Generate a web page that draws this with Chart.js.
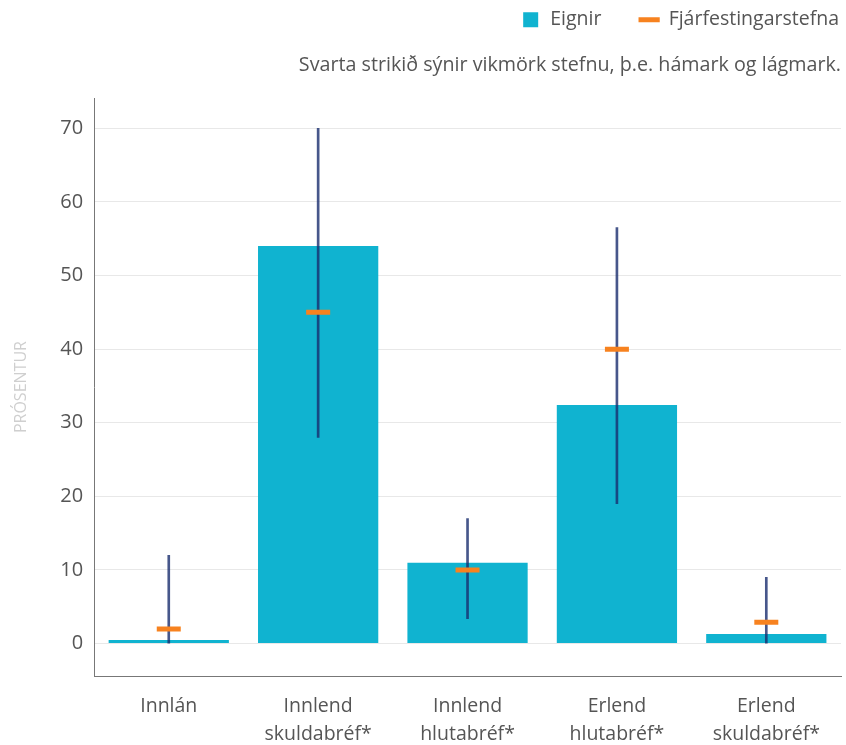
<!DOCTYPE html>
<html>
<head>
<meta charset="utf-8">
<script src="https://cdn.jsdelivr.net/npm/chart.js@4"></script>
<style>
  body { margin: 0; background: #fff; }
  #wrap { width: 846px; height: 745px; }
</style>
</head>
<body>
<div id="wrap"><canvas id="eignirChart"></canvas></div>
<script>
const categories = [
  'Innlán',
  ['Innlend', 'skuldabréf*'],
  ['Innlend', 'hlutabréf*'],
  ['Erlend', 'hlutabréf*'],
  ['Erlend', 'skuldabréf*']
];
const eignir = [0.5, 54, 11, 32.4, 1.3];
const stefna = [2, 45, 10, 40, 2.9];
const lagmark = [0, 28, 3.4, 19, 0];
const hamark = [12, 70, 17, 56.5, 9];
const yTicks = [0, 10, 20, 30, 40, 50, 60, 70];

const fontFamily = "'Open Sans', sans-serif";
const textColor = '#555';
const legendGap = 38;

// legend rows reserve padding after the last item; push it flush right
const legendShift = {
  id: 'legendShift',
  afterLayout(chart) {
    chart.legend.left += legendGap - 2;
    chart.legend.right += legendGap - 2;
  }
};

const ctx = document.getElementById('eignirChart').getContext('2d');
new Chart(ctx, {
  type: 'bar',
  data: {
    labels: categories,
    datasets: [
      {
        label: 'Eignir',
        data: eignir,
        backgroundColor: '#10b3d0',
        pointStyle: 'rect',
        grouped: false,
        barPercentage: 0.805,
        categoryPercentage: 1,
        order: 3
      },
      {
        type: 'line',
        label: 'Fjárfestingarstefna',
        data: stefna,
        showLine: false,
        pointStyle: 'line',
        pointRadius: 12,
        pointHoverRadius: 12,
        pointBorderWidth: 5,
        borderColor: '#f7821f',
        backgroundColor: '#f7821f',
        order: 1
      },
      {
        label: 'vikmörk',
        data: lagmark.map((v, i) => [v, hamark[i]]),
        backgroundColor: 'rgba(25, 45, 110, 0.8)',
        grouped: false,
        barThickness: 2,
        order: 2
      }
    ]
  },
  options: {
    responsive: true,
    maintainAspectRatio: false,
    animation: false,
    layout: { autoPadding: false, padding: { right: 5, bottom: 0, left: 12, top: -28 } },
    plugins: {
      tooltip: { enabled: false },
      legend: {
        position: 'top',
        align: 'end',
        labels: {
          usePointStyle: true,
          boxHeight: 15,
          padding: legendGap,
          color: textColor,
          font: { family: fontFamily, size: 19.5 },
          sort: (a, b) => a.datasetIndex - b.datasetIndex,
          filter: item => item.text !== 'vikmörk'
        }
      },
      subtitle: {
        display: true,
        text: 'Svarta strikið sýnir vikmörk stefnu, þ.e. hámark og lágmark.',
        align: 'end',
        position: 'top',
        weight: 900,
        color: textColor,
        font: { family: fontFamily, size: 19.7, weight: 'normal' },
        padding: { top: 14, bottom: 21 }
      }
    },
    scales: {
      x: {
        grid: { display: false },
        border: { color: '#777' },
        afterFit: s => {
          s.paddingLeft = 0;
          s.paddingRight = 0;
          s.height = 69;
        },
        ticks: {
          color: textColor,
          font: { family: fontFamily, size: 19.5, lineHeight: 1.44 },
          padding: 8
        }
      },
      y: {
        min: -4.4,
        max: 74.1,
        afterBuildTicks: axis => {
          axis.ticks = yTicks.map(v => ({ value: v }));
        },
        grid: { color: '#e8e8e8', drawTicks: false },
        border: { color: '#777' },
        ticks: {
          color: textColor,
          font: { family: fontFamily, size: 20 },
          padding: 11
        },
        title: {
          display: true,
          text: 'PRÓSENTUR',
          color: '#cfcfcf',
          font: { family: fontFamily, size: 16 },
          padding: { top: 0, bottom: 18 }
        }
      }
    }
  },
  plugins: [legendShift]
});
</script>
</body>
</html>
